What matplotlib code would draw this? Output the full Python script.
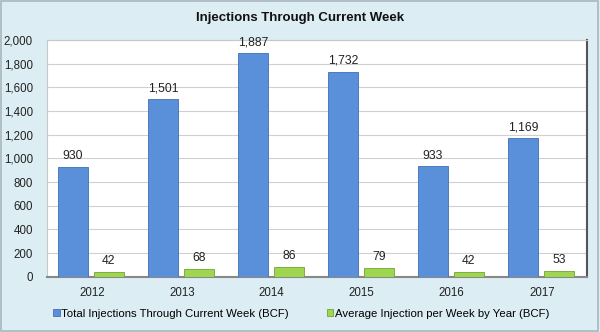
import numpy as np
import matplotlib.pyplot as plt
from matplotlib.patches import Rectangle

plt.rcParams['font.family'] = ['Liberation Sans', 'DejaVu Sans']

years = ['2012', '2013', '2014', '2015', '2016', '2017']
total_inj = [930, 1501, 1887, 1732, 933, 1169]
avg_weekly = [42, 68, 86, 79, 42, 53]

bg = '#dcedf3'
blue = '#5a8fda'
green = '#9fd650'

fig = plt.figure(figsize=(6, 3.32), dpi=100, facecolor=bg)
fig.patches.append(Rectangle((0.002, 0.003), 0.995, 0.993, transform=fig.transFigure,
                             fill=False, edgecolor='#a9b7bd', linewidth=1.2))

ax = fig.add_axes([0.078, 0.166, 0.9, 0.714])
x = np.arange(len(years))
w = 0.34
b1 = ax.bar(x - 0.21, total_inj, w, color=blue, edgecolor='#3f6fb5', linewidth=0.6,
            label='Total Injections Through Current Week (BCF)', zorder=3)
b2 = ax.bar(x + 0.19, avg_weekly, w, color=green, edgecolor='#6fa532', linewidth=0.6,
            label='Average Injection per Week by Year (BCF)', zorder=3)

for bars in (b1, b2):
    for r in bars:
        ax.text(r.get_x() + r.get_width() / 2, r.get_height() + 40, f'{int(r.get_height()):,}',
                ha='center', va='bottom', fontsize=8.7, color='#222222')

ax.set_xlim(-0.5, len(years) - 0.5)
ax.set_ylim(0, 2000)
ax.set_yticks(range(0, 2001, 200))
ax.set_yticklabels([f'{v:,}' for v in range(0, 2001, 200)])
ax.set_xticks(x)
ax.set_xticklabels(years)
ax.tick_params(axis='both', length=0, labelsize=8.3, colors='#222222')
ax.tick_params(axis='x', pad=7)
ax.tick_params(axis='y', pad=10)
ax.grid(axis='y', color='#d0d0d0', linewidth=0.8, zorder=0)
ax.set_facecolor('white')
for s in ['top', 'left']:
    ax.spines[s].set_color('#c8c8c8')
ax.spines['right'].set_color('#555555')
ax.spines['right'].set_linewidth(1.5)
ax.spines['bottom'].set_color('#888888')
ax.spines['bottom'].set_linewidth(1.5)

fig.text(0.5, 0.945, 'Injections Through Current Week', ha='center', va='center',
         fontsize=9.5, fontweight='bold', color='#111111')

fig.legend(handles=[b1, b2], loc='center', bbox_to_anchor=(0.502, 0.055), ncol=2,
           frameon=False, fontsize=8.2, handlelength=0.55, handleheight=0.55,
           handletextpad=0.15, columnspacing=3.3)

fig.savefig('out.png', dpi=100, facecolor=bg)
